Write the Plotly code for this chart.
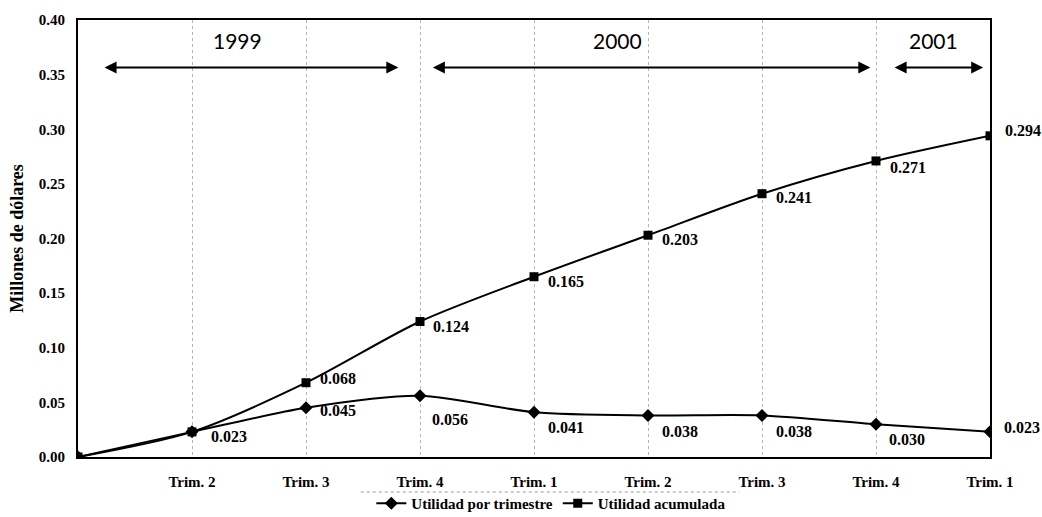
import plotly.graph_objects as go

# Quarterly and cumulative profit (millions of dollars)
categories = ["", "Trim. 2", "Trim. 3", "Trim. 4", "Trim. 1", "Trim. 2", "Trim. 3", "Trim. 4", "Trim. 1"]
utilidad_trimestre = [0.0, 0.023, 0.045, 0.056, 0.041, 0.038, 0.038, 0.030, 0.023]
utilidad_acumulada = [0.0, 0.023, 0.068, 0.124, 0.165, 0.203, 0.241, 0.271, 0.294]
years = ["1999", "2000", "2001"]
y_ticks = [0.00, 0.05, 0.10, 0.15, 0.20, 0.25, 0.30, 0.35, 0.40]

x = list(range(len(categories)))

serif = "Liberation Serif"
fig = go.Figure()

fig.add_trace(go.Scatter(
    x=x, y=utilidad_trimestre, mode="lines+markers", name="Utilidad por trimestre",
    line=dict(color="black", width=2, shape="spline", smoothing=0.8),
    marker=dict(symbol="diamond", size=10, color="black"),
))
fig.add_trace(go.Scatter(
    x=x, y=utilidad_acumulada, mode="lines+markers", name="Utilidad acumulada",
    line=dict(color="black", width=2, shape="spline", smoothing=0.8),
    marker=dict(symbol="square", size=9, color="black"),
))

# value labels: (xshift, yshift) in pixels from each point
trim_offsets = [None, None, (12, -3), (10, -24), (12, -15), (12, -16), (12, -16), (11, -15), (12, 4)]
acum_offsets = [None, (17, -5), (12, 4), (11, -5), (12, -5), (12, -4), (12, -4), (12, -7), (13, 5)]

annotations = []
for series, offsets in ((utilidad_trimestre, trim_offsets), (utilidad_acumulada, acum_offsets)):
    for i, (v, off) in enumerate(zip(series, offsets)):
        if off is None:
            continue
        annotations.append(dict(
            x=x[i], y=v, xref="x", yref="y", text=f"{v:.3f}", showarrow=False,
            xanchor="left", yanchor="middle", xshift=off[0], yshift=off[1],
            font=dict(family=serif, size=16, color="black", weight="bold"),
        ))

# year spans with double-headed arrows
spans = [(0.22, 2.81), (3.10, 6.95), (7.15, 7.94)]
label_x = [1.40, 4.73, 7.50]
for yr, (a, b), lx in zip(years, spans, label_x):
    annotations.append(dict(
        x=b, y=0.3565, ax=a, ay=0.3565, xref="x", yref="y", axref="x", ayref="y",
        text="", showarrow=True, arrowhead=2, arrowside="end+start",
        arrowsize=1.2, arrowwidth=2, arrowcolor="black",
    ))
    annotations.append(dict(
        x=lx, y=0.381, xref="x", yref="y", text=yr, showarrow=False,
        font=dict(family="Lato", size=21, color="black"),
    ))

fig.update_layout(
    width=1042, height=517,
    margin=dict(l=78, r=52, t=20, b=60, autoexpand=False),
    paper_bgcolor="white", plot_bgcolor="white",
    showlegend=True,
    legend=dict(
        orientation="h", x=0.519, xanchor="center",
        yref="container", y=0.058, yanchor="top",
        font=dict(family=serif, size=15, color="black", weight="bold"),
        tracegroupgap=0, bgcolor="rgba(0,0,0,0)",
    ),
    annotations=annotations,
    shapes=[dict(
        type="line", xref="paper", yref="paper", x0=0.31, x1=0.725, y0=-0.08, y1=-0.08,
        line=dict(color="#999", width=1, dash="dot"),
    )],
)

fig.update_xaxes(
    range=[0, 8], tickvals=x[1:], ticktext=categories[1:],
    showgrid=True, gridcolor="#b5b5b5", griddash="dot", gridwidth=1,
    showline=True, linecolor="black", linewidth=2, mirror=True,
    ticks="outside", ticklen=10, tickcolor="rgba(0,0,0,0)",
    tickfont=dict(family=serif, size=15, color="black", weight="bold"),
    zeroline=False, automargin=False,
)
fig.update_yaxes(
    range=[0, 0.40], tickvals=y_ticks, tickformat=".2f",
    showgrid=False, zeroline=False,
    showline=True, linecolor="black", linewidth=2, mirror=True,
    ticks="outside", ticklen=8, tickcolor="rgba(0,0,0,0)",
    tickfont=dict(family=serif, size=15, color="black", weight="bold"),
    title=dict(text="Millones de dólares", standoff=10,
               font=dict(family=serif, size=18, color="black", weight="bold")),
    automargin=False,
)

fig.write_html("out.html")
